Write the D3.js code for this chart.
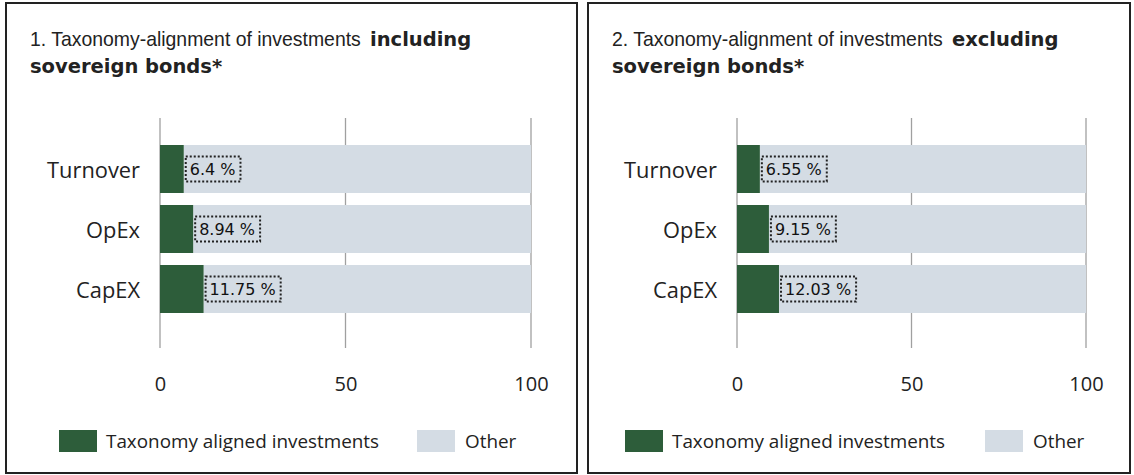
<!DOCTYPE html>
<html>
<head>
<meta charset="utf-8">
<script src="https://cdn.jsdelivr.net/npm/d3@7"></script>
<style>
  html, body { margin: 0; padding: 0; background: #fff; }
  svg { display: block; }
</style>
</head>
<body>
<svg id="chart" width="1134" height="475"></svg>
<script>
// ---- data ----
const categories = ["Turnover", "OpEx", "CapEX"];
const alignedIncluding = [6.4, 8.94, 11.75];
const alignedExcluding = [6.55, 9.15, 12.03];
const labelsIncluding = ["6.4 %", "8.94 %", "11.75 %"];
const labelsExcluding = ["6.55 %", "9.15 %", "12.03 %"];
const tickValues = [0, 50, 100];
const totalValue = 100;
const legendLabels = ["Taxonomy aligned investments", "Other"];
const titlesRegular = ["1. Taxonomy-alignment of investments", "2. Taxonomy-alignment of investments"];
const titlesBold1 = ["including", "excluding"];
const titlesBold2 = "sovereign bonds*";

const GREEN = "#2d5d3a";
const GREY = "#d4dce4";
const FONT = "'Open Sans', 'Noto Sans', sans-serif";
const TFONT = "'DejaVu Sans', sans-serif";
const RFONT = "'Liberation Sans', Arial, sans-serif";

const svg = d3.select("#chart");

function fitWidth(sel, target) {
  const w = sel.node().getComputedTextLength();
  const fs = parseFloat(sel.attr("font-size"));
  if (w > 0) sel.attr("font-size", (fs * target / w).toFixed(2));
}

const panels = [
  { box: [6, 3, 571, 470], x0: 160, x1: 531, titleX: 30, catRight: 140,
    values: alignedIncluding, labels: labelsIncluding, legX: 59, legX2: 417,
    regW: 331, boldX: 370 },
  { box: [588, 3, 542, 470], x0: 737, x1: 1086, titleX: 612, catRight: 717,
    values: alignedExcluding, labels: labelsExcluding, legX: 625, legX2: 985,
    regW: 331, boldX: 952 }
];

panels.forEach((p, pi) => {
  const g = svg.append("g");
  g.append("rect")
    .attr("x", p.box[0]).attr("y", p.box[1])
    .attr("width", p.box[2]).attr("height", p.box[3])
    .attr("fill", "#fff").attr("stroke", "#222").attr("stroke-width", 2);

  // title
  const tReg = g.append("text").attr("x", p.titleX).attr("y", 46)
    .attr("font-family", RFONT).attr("font-size", 19).attr("fill", "#222")
    .text(titlesRegular[pi]);
  fitWidth(tReg, p.regW);
  g.append("text").attr("x", p.boldX).attr("y", 46)
    .attr("font-family", TFONT).attr("font-size", 19.5).attr("font-weight", "bold")
    .attr("fill", "#222").text(titlesBold1[pi]);
  g.append("text").attr("x", p.titleX).attr("y", 73)
    .attr("font-family", TFONT).attr("font-size", 19.5).attr("font-weight", "bold")
    .attr("fill", "#222").text(titlesBold2);

  const x = d3.scaleLinear().domain([0, totalValue]).range([p.x0, p.x1]);
  const y = d3.scaleBand().domain(categories).range([139, 319])
    .paddingInner(0.2).paddingOuter(0.1);

  // gridlines
  g.append("g").selectAll("line").data(tickValues).join("line")
    .attr("x1", d => x(d)).attr("x2", d => x(d))
    .attr("y1", 118).attr("y2", 348)
    .attr("stroke", "#a0a0a0").attr("stroke-width", 1.3);

  // tick labels via axis
  const axis = d3.axisBottom(x).tickValues(tickValues).tickSize(0).tickPadding(0);
  const ag = g.append("g").attr("transform", "translate(0,373)").call(axis);
  ag.select(".domain").remove();
  ag.selectAll("text").attr("font-family", FONT).attr("font-size", 20)
    .attr("fill", "#222").attr("dy", "0.9em");

  const data = categories.map((c, i) => ({ c, v: p.values[i], label: p.labels[i] }));

  // grey (other) bars
  g.append("g").selectAll("rect").data(data).join("rect")
    .attr("x", d => x(d.v)).attr("y", d => y(d.c))
    .attr("width", d => x(totalValue) - x(d.v)).attr("height", y.bandwidth())
    .attr("fill", GREY);
  // green bars
  g.append("g").selectAll("rect").data(data).join("rect")
    .attr("x", x(0)).attr("y", d => y(d.c))
    .attr("width", d => x(d.v) - x(0)).attr("height", y.bandwidth())
    .attr("fill", GREEN);

  // category labels
  const cats = g.append("g").selectAll("text").data(data).join("text")
    .attr("x", p.catRight).attr("y", d => y(d.c) + y.bandwidth() / 2)
    .attr("text-anchor", "end").attr("dominant-baseline", "central")
    .attr("font-family", FONT).attr("font-size", 24).attr("fill", "#222")
    .text(d => d.c);
  fitWidth(d3.select(cats.nodes()[0]), 93);
  cats.attr("font-size", d3.select(cats.nodes()[0]).attr("font-size"));

  // data labels
  const lg = g.append("g").selectAll("g").data(data).join("g");
  lg.each(function(d) {
    const gg = d3.select(this);
    const bx = x(d.v) + 2;
    const cy = y(d.c) + y.bandwidth() / 2;
    const txt = gg.append("text").attr("x", bx + 4).attr("y", cy)
      .attr("dominant-baseline", "central")
      .attr("font-family", TFONT).attr("font-size", 16).attr("fill", "#111")
      .text(d.label);
    const w = txt.node().getComputedTextLength();
    gg.insert("rect", "text")
      .attr("x", bx).attr("y", cy - 12.5)
      .attr("width", w + 9).attr("height", 25)
      .attr("fill", GREY).attr("stroke", "#222").attr("stroke-width", 2)
      .attr("stroke-dasharray", "2,2");
  });

  // legend
  const ly = 430;
  g.append("rect").attr("x", p.legX).attr("y", ly).attr("width", 38).attr("height", 22)
    .attr("fill", GREEN);
  const l1 = g.append("text").attr("x", p.legX + 47).attr("y", ly + 11)
    .attr("dominant-baseline", "central")
    .attr("font-family", FONT).attr("font-size", 18).attr("fill", "#222")
    .text(legendLabels[0]);
  fitWidth(l1, 273);
  g.append("rect").attr("x", p.legX2).attr("y", ly).attr("width", 38).attr("height", 22)
    .attr("fill", GREY);
  g.append("text").attr("x", p.legX2 + 48).attr("y", ly + 11)
    .attr("dominant-baseline", "central")
    .attr("font-family", FONT).attr("font-size", l1.attr("font-size")).attr("fill", "#222")
    .text(legendLabels[1]);
});
</script>
</body>
</html>
